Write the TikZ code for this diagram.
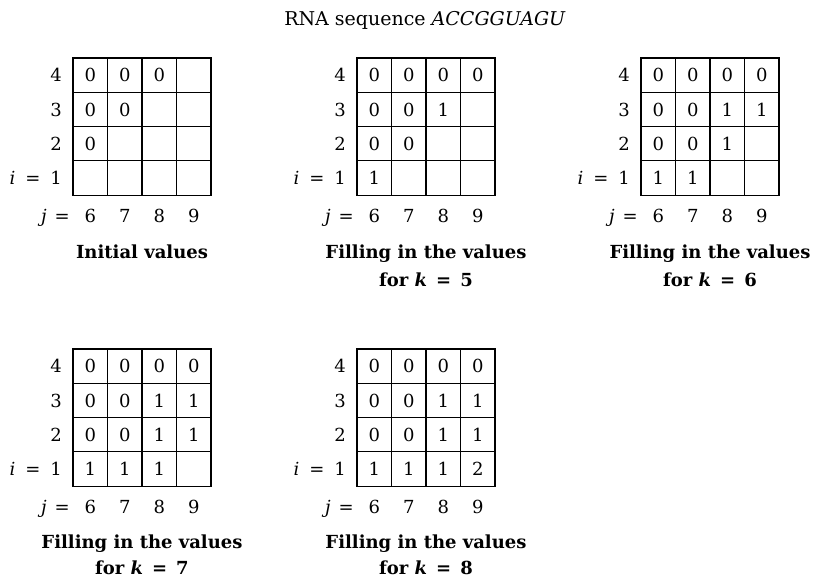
\documentclass[tikz,border=0pt]{standalone}
\usepackage{fontspec}
\setmainfont{DejaVu Serif}
\tikzset{
  cell/.style={draw, line width=1.1pt, minimum width=34.5pt, minimum height=34.3pt,
    inner sep=0pt, font=\fontsize{18}{20}\selectfont},
  lab/.style={inner sep=0pt, font=\fontsize{18}{20}\selectfont},
  captext/.style={inner sep=0pt, font=\fontsize{18}{20}\selectfont\bfseries},
}
% #1 name, #2 left x, #3 top y, #4 the 16 entries (rows i=4..1, columns j=6..9)
\newcommand{\dpgrid}[4]{%
  \foreach \v [count=\n from 0] in {#4} {
    \pgfmathtruncatemacro{\rr}{int(\n/4)}
    \pgfmathtruncatemacro{\cc}{mod(\n,4)}
    \node[cell] (#1-\rr-\cc) at ({#2+17.25+34.5*\cc},{#3+17.15+34.3*\rr}) {\v};
  }
  \node[lab, anchor=base east] (#1-r4) at ({#2-11},{#3+17.15+6.6}) {4};
  \node[lab, anchor=base east] (#1-r3) at ({#2-11},{#3+51.45+6.6}) {3};
  \node[lab, anchor=base east] (#1-r2) at ({#2-11},{#3+85.75+6.6}) {2};
  \node[lab, anchor=base east] (#1-r1) at ({#2-11},{#3+120.05+6.6}) {\textit{i}\hspace{10pt}=\hspace{10pt}1};
  \node[lab, anchor=base east] (#1-j) at ({#2-3},{#3+158+6.6}) {\textit{j}\hspace{8pt}=};
  \node[lab, anchor=base] (#1-c6) at ({#2+17.25},{#3+158+6.6}) {6};
  \node[lab, anchor=base] (#1-c7) at ({#2+51.75},{#3+158+6.6}) {7};
  \node[lab, anchor=base] (#1-c8) at ({#2+86.25},{#3+158+6.6}) {8};
  \node[lab, anchor=base] (#1-c9) at ({#2+120.75},{#3+158+6.6}) {9};
}
\begin{document}
\begin{tikzpicture}[x=1pt,y=-1pt]
  \useasboundingbox (0,0) rectangle (816,579);
  \node[lab, anchor=base, font=\fontsize{19}{21}\selectfont] (title) at (425,25) {RNA sequence \textit{ACCGGUAGU}};

  \dpgrid{ga}{73}{58}{0,0,0,{},0,0,{},{},0,{},{},{},{},{},{},{}}
  \dpgrid{gb}{357}{58}{0,0,0,0,0,0,1,{},0,0,{},{},1,{},{},{}}
  \dpgrid{gc}{641}{58}{0,0,0,0,0,0,1,1,0,0,1,{},1,1,{},{}}
  \dpgrid{gd}{73}{349}{0,0,0,0,0,0,1,1,0,0,1,1,1,1,1,{}}
  \dpgrid{ge}{357}{349}{0,0,0,0,0,0,1,1,0,0,1,1,1,1,1,2}

  \node[captext, anchor=base] (capa) at (142,258.5) {Initial values};
  \node[captext, anchor=base] (capb1) at (426,258.5) {Filling in the values};
  \node[captext, anchor=base] (capb2) at (426,286.5) {for \textit{k}\hspace{9pt}=\hspace{9pt}5};
  \node[captext, anchor=base] (capc1) at (710,258.5) {Filling in the values};
  \node[captext, anchor=base] (capc2) at (710,286.5) {for \textit{k}\hspace{9pt}=\hspace{9pt}6};
  \node[captext, anchor=base] (capd1) at (142,548.5) {Filling in the values};
  \node[captext, anchor=base] (capd2) at (142,574.5) {for \textit{k}\hspace{9pt}=\hspace{9pt}7};
  \node[captext, anchor=base] (cape1) at (426,548.5) {Filling in the values};
  \node[captext, anchor=base] (cape2) at (426,574.5) {for \textit{k}\hspace{9pt}=\hspace{9pt}8};
\end{tikzpicture}
\end{document}
